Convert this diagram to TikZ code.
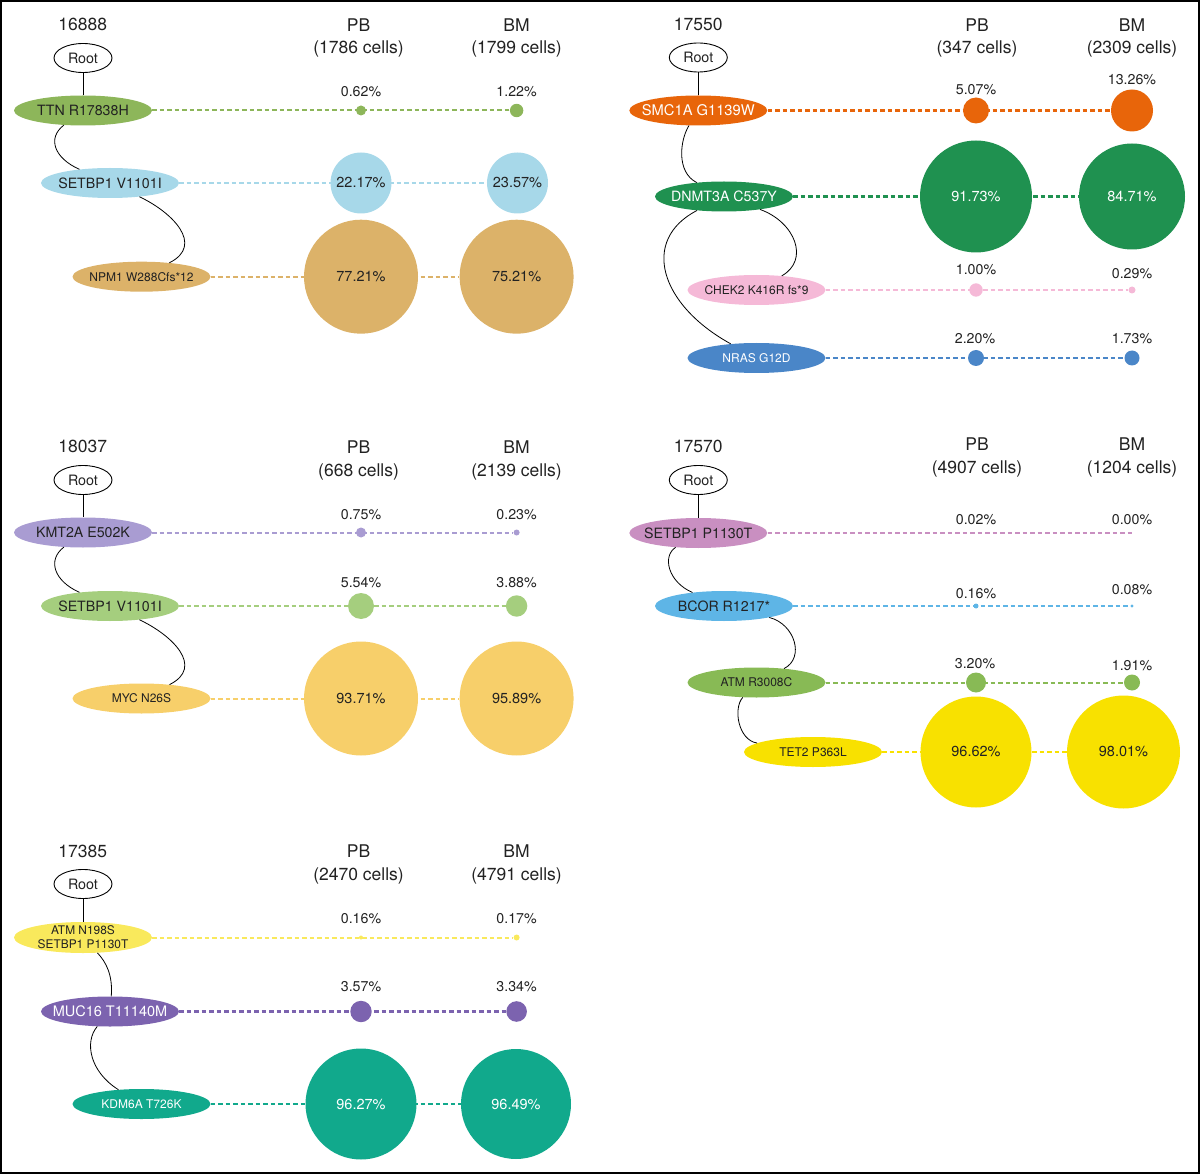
\documentclass[tikz,border=0pt]{standalone}
\usepackage{fontspec}
\setmainfont{TeX Gyre Heros}
\usetikzlibrary{shapes.geometric,backgrounds}
\newcommand\fsz[1]{\fontsize{#1pt}{#1pt}\selectfont}
\definecolor{cTTN}{HTML}{8DB65A}
\definecolor{cSETa}{HTML}{A7D8E9}
\definecolor{cNPM}{HTML}{DCB269}
\definecolor{cSMC}{HTML}{E8650A}
\definecolor{cDNM}{HTML}{1F9150}
\definecolor{cCHK}{HTML}{F5B9D7}
\definecolor{cNRAS}{HTML}{4A86C8}
\definecolor{cKMT}{HTML}{A99CD2}
\definecolor{cSETb}{HTML}{A5CE7E}
\definecolor{cMYC}{HTML}{F7CF6A}
\definecolor{cSETc}{HTML}{C98FC1}
\definecolor{cBCOR}{HTML}{5EB5E6}
\definecolor{cATM}{HTML}{88BA55}
\definecolor{cTET}{HTML}{F8E100}
\definecolor{cATMb}{HTML}{F9E95C}
\definecolor{cMUC}{HTML}{7C63AF}
\definecolor{cKDM}{HTML}{11A98C}
\definecolor{ink}{HTML}{222222}
\begin{document}
\begin{tikzpicture}[x=1pt,y=-1pt,
  mut/.style={ellipse, minimum width=138pt, minimum height=30pt, inner xsep=-10pt, inner ysep=-3pt, font=\fsz{14.2}, text=ink},
  small/.style={font=\fsz{12}},
  wtxt/.style={text=white},
  rootn/.style={ellipse, draw=black, line width=0.9pt, fill=white, minimum width=58pt, minimum height=29pt, inner sep=0pt, font=\fsz{14.3}, text=ink},
  blob/.style={circle, inner sep=0pt, draw=none, font=\fsz{14.5}, text=ink},
  pct/.style={font=\fsz{14.2}, text=ink},
  idl/.style={font=\fsz{17.5}, text=ink},
  hdr/.style={font=\fontsize{17.5pt}{22.6pt}\selectfont, align=center, text=ink},
  tree/.style={line width=0.8pt, draw=black},
  dsh/.style={dash pattern=on 4.5pt off 3pt, line width=2pt}]
\useasboundingbox (0,0) rectangle (1200,1174);
\draw[line width=2pt] (1,1) rectangle (1199,1173);

% ---------------- Panel 1: 16888
\node[idl] (id1) at (82.8,24) {16888};
\node[hdr] (h1p) at (358.6,38) {PB\\(1786 cells)};
\node[hdr] (h1b) at (516.6,38) {BM\\(1799 cells)};
\node[rootn] (r1) at (83,58) {Root};
\node[mut, fill=cTTN] (a1) at (83,110.5) {TTN R17838H};
\node[mut, fill=cSETa] (b1) at (110,183) {SETBP1 V1101I};
\node[mut, small, fill=cNPM] (c1) at (141.5,276.7) {NPM1 W288Cfs*12};
\node[blob, fill=cTTN, minimum size=10pt] (a1p) at (361,110.5) {};
\node[blob, fill=cTTN, minimum size=13.4pt] (a1b) at (516.6,110.5) {};
\node[pct] (a1pl) at (361,91.7) {0.62\%};
\node[pct] (a1bl) at (516.6,91.7) {1.22\%};
\node[blob, fill=cSETa, minimum size=61pt] (b1p) at (361,183) {22.17\%};
\node[blob, fill=cSETa, minimum size=61pt] (b1b) at (517.5,183) {23.57\%};
\node[blob, fill=cNPM, minimum size=114pt] (c1p) at (361,276.7) {77.21\%};
\node[blob, fill=cNPM, minimum size=114pt] (c1b) at (516.6,276.7) {75.21\%};
\draw[tree] (r1) -- (a1);
\draw[tree] (a1) .. controls (47,138) and (54,158) .. (b1);
\draw[tree] (b1) .. controls (172,212) and (205,245) .. (c1);

% ---------------- Panel 2: 17550
\node[idl] (id2) at (698.3,24) {17550};
\node[hdr] (h2p) at (977,38) {PB\\(347 cells)};
\node[hdr] (h2b) at (1132,38) {BM\\(2309 cells)};
\node[rootn] (r2) at (698.3,57.5) {Root};
\node[mut, wtxt, fill=cSMC, font=\fsz{14.7}] (a2) at (698.3,110.5) {SMC1A G1139W};
\node[mut, wtxt, fill=cDNM] (b2) at (724,196.5) {DNMT3A C537Y};
\node[mut, small, fill=cCHK] (c2) at (756.5,290) {CHEK2 K416R fs*9};
\node[mut, small, wtxt, fill=cNRAS] (d2) at (756.5,358) {NRAS G12D};
\node[blob, fill=cSMC, minimum size=26pt] (a2p) at (976,110.5) {};
\node[blob, fill=cSMC, minimum size=42pt] (a2b) at (1132,110.5) {};
\node[pct] (a2pl) at (976,90) {5.07\%};
\node[pct] (a2bl) at (1132,80) {13.26\%};
\node[blob, text=white, fill=cDNM, minimum size=112pt] (b2p) at (976,196.5) {91.73\%};
\node[blob, text=white, fill=cDNM, minimum size=106pt] (b2b) at (1132,196.5) {84.71\%};
\node[blob, fill=cCHK, minimum size=13.4pt] (c2p) at (976,290) {};
\node[blob, fill=cCHK, minimum size=7pt] (c2b) at (1132,290) {};
\node[pct] (c2pl) at (976,270) {1.00\%};
\node[pct] (c2bl) at (1132,273.3) {0.29\%};
\node[blob, fill=cNRAS, minimum size=16pt] (d2p) at (976,358) {};
\node[blob, fill=cNRAS, minimum size=15pt] (d2b) at (1132,358) {};
\node[pct] (d2pl) at (975,338.3) {2.20\%};
\node[pct] (d2bl) at (1132,338.3) {1.73\%};
\draw[tree] (r2) -- (a2);
\draw[tree] (a2) .. controls (680,140) and (676,172) .. (b2);
\draw[tree] (b2) .. controls (795,222) and (810,260) .. (c2);
\draw[tree] (b2) .. controls (640,240) and (660,305) .. (d2);

% ---------------- Panel 3: 18037
\node[idl] (id3) at (82.8,446.5) {18037};
\node[hdr] (h3p) at (358.6,460.5) {PB\\(668 cells)};
\node[hdr] (h3b) at (516.6,460.5) {BM\\(2139 cells)};
\node[rootn] (r3) at (83,480) {Root};
\node[mut, fill=cKMT] (a3) at (83,532.5) {KMT2A E502K};
\node[mut, fill=cSETb] (b3) at (110,606) {SETBP1 V1101I};
\node[mut, small, fill=cMYC] (c3) at (141.5,698.5) {MYC N26S};
\node[blob, fill=cKMT, minimum size=10pt] (a3p) at (361,532.5) {};
\node[blob, fill=cKMT, minimum size=6pt] (a3b) at (516.6,532.5) {};
\node[pct] (a3pl) at (361,514.3) {0.75\%};
\node[pct] (a3bl) at (516.6,514.3) {0.23\%};
\node[blob, fill=cSETb, minimum size=26pt] (b3p) at (361,606) {};
\node[blob, fill=cSETb, minimum size=21.4pt] (b3b) at (516.6,606) {};
\node[pct] (b3pl) at (361,582.3) {5.54\%};
\node[pct] (b3bl) at (516.6,582.3) {3.88\%};
\node[blob, fill=cMYC, minimum size=114pt] (c3p) at (361,698.5) {93.71\%};
\node[blob, fill=cMYC, minimum size=114pt] (c3b) at (516.6,698.5) {95.89\%};
\draw[tree] (r3) -- (a3);
\draw[tree] (a3) .. controls (47,560) and (54,581) .. (b3);
\draw[tree] (b3) .. controls (172,635) and (205,667) .. (c3);

% ---------------- Panel 4: 17570
\node[idl] (id4) at (698.3,446.7) {17570};
\node[hdr] (h4p) at (977,457.5) {PB\\(4907 cells)};
\node[hdr] (h4b) at (1132,457.5) {BM\\(1204 cells)};
\node[rootn] (r4) at (698.3,480) {Root};
\node[mut, fill=cSETc] (a4) at (698.3,533) {SETBP1 P1130T};
\node[mut, fill=cBCOR] (b4) at (724,606) {BCOR R1217*};
\node[mut, small, fill=cATM] (c4) at (756.5,682.5) {ATM R3008C};
\node[mut, small, fill=cTET] (d4) at (813,752) {TET2 P363L};
\coordinate (a4b) at (1132,533);
\node[pct] (a4pl) at (976,520) {0.02\%};
\node[pct] (a4bl) at (1132,520) {0.00\%};
\node[blob, fill=cBCOR, minimum size=5pt] (b4p) at (976,606) {};
\node[blob, fill=cBCOR, minimum size=3.4pt] (b4b) at (1132,606) {};
\node[pct] (b4pl) at (976,593.3) {0.16\%};
\node[pct] (b4bl) at (1132,590) {0.08\%};
\node[blob, fill=cATM, minimum size=20pt] (c4p) at (976,682.5) {};
\node[blob, fill=cATM, minimum size=16pt] (c4b) at (1132,682.5) {};
\node[pct] (c4pl) at (975,663.3) {3.20\%};
\node[pct] (c4bl) at (1132,666) {1.91\%};
\node[blob, fill=cTET, minimum size=111pt] (d4p) at (976,752) {96.62\%};
\node[blob, fill=cTET, minimum size=113pt] (d4b) at (1123.5,752) {98.01\%};
\draw[tree] (r4) -- (a4);
\draw[tree] (a4) .. controls (662,556) and (668,582) .. (b4);
\draw[tree] (b4) .. controls (795,624) and (805,658) .. (c4);
\draw[tree] (c4) .. controls (733,708) and (738,740) .. (d4);

% ---------------- Panel 5: 17385
\node[idl] (id5) at (82.8,851.7) {17385};
\node[hdr] (h5p) at (358.6,864.7) {PB\\(2470 cells)};
\node[hdr] (h5b) at (516.6,864.7) {BM\\(4791 cells)};
\node[rootn] (r5) at (83,884) {Root};
\node[mut, fill=cATMb, align=center, minimum height=31pt, font=\fontsize{11.9pt}{14.3pt}\selectfont] (a5) at (83,937.5) {ATM N198S\\SETBP1 P1130T};
\node[mut, wtxt, fill=cMUC, font=\fsz{14.5}] (b5) at (110,1011.5) {MUC16 T11140M};
\node[mut, small, wtxt, fill=cKDM] (c5) at (141.5,1104) {KDM6A T726K};
\node[blob, fill=cATMb, minimum size=4pt] (a5p) at (361,937.5) {};
\node[blob, fill=cATMb, minimum size=6pt] (a5b) at (516.6,937.5) {};
\node[pct] (a5pl) at (361,919) {0.16\%};
\node[pct] (a5bl) at (516.6,919) {0.17\%};
\node[blob, fill=cMUC, minimum size=21.4pt] (b5p) at (361,1011.5) {};
\node[blob, fill=cMUC, minimum size=20.6pt] (b5b) at (516.6,1011.5) {};
\node[pct] (b5pl) at (361,986.7) {3.57\%};
\node[pct] (b5bl) at (516.6,986.7) {3.34\%};
\node[blob, text=white, fill=cKDM, minimum size=111pt] (c5p) at (361,1104) {96.27\%};
\node[blob, text=white, fill=cKDM, minimum size=110pt] (c5b) at (516,1104) {96.49\%};
\draw[tree] (r5) -- (a5);
\draw[tree] (a5) .. controls (106,962) and (113,975) .. (b5);
\draw[tree] (b5) .. controls (84,1042) and (90,1072) .. (c5);

% ---------------- dashed connectors (behind the circles)
\begin{pgfonlayer}{background}
\draw[dsh, cTTN] (a1) -- (a1b);
\draw[dsh, cSETa] (b1) -- (b1b);
\draw[dsh, cNPM] (c1) -- (c1b);
\draw[dsh, cSMC, line width=2.6pt] (a2) -- (a2b);
\draw[dsh, cDNM, line width=2.6pt] (b2) -- (b2b);
\draw[dsh, cCHK] (c2) -- (c2b);
\draw[dsh, cNRAS, line width=2.4pt] (d2) -- (d2b);
\draw[dsh, cKMT] (a3) -- (a3b);
\draw[dsh, cSETb] (b3) -- (b3b);
\draw[dsh, cMYC] (c3) -- (c3b);
\draw[dsh, cSETc] (a4) -- (a4b);
\draw[dsh, cBCOR] (b4) -- (b4b);
\draw[dsh, cATM] (c4) -- (c4b);
\draw[dsh, cTET, line width=2.4pt] (d4) -- (d4b);
\draw[dsh, cATMb] (a5) -- (a5b);
\draw[dsh, cMUC, line width=2.4pt] (b5) -- (b5b);
\draw[dsh, cKDM, line width=2.4pt] (c5) -- (c5b);
\end{pgfonlayer}
\end{tikzpicture}
\end{document}
